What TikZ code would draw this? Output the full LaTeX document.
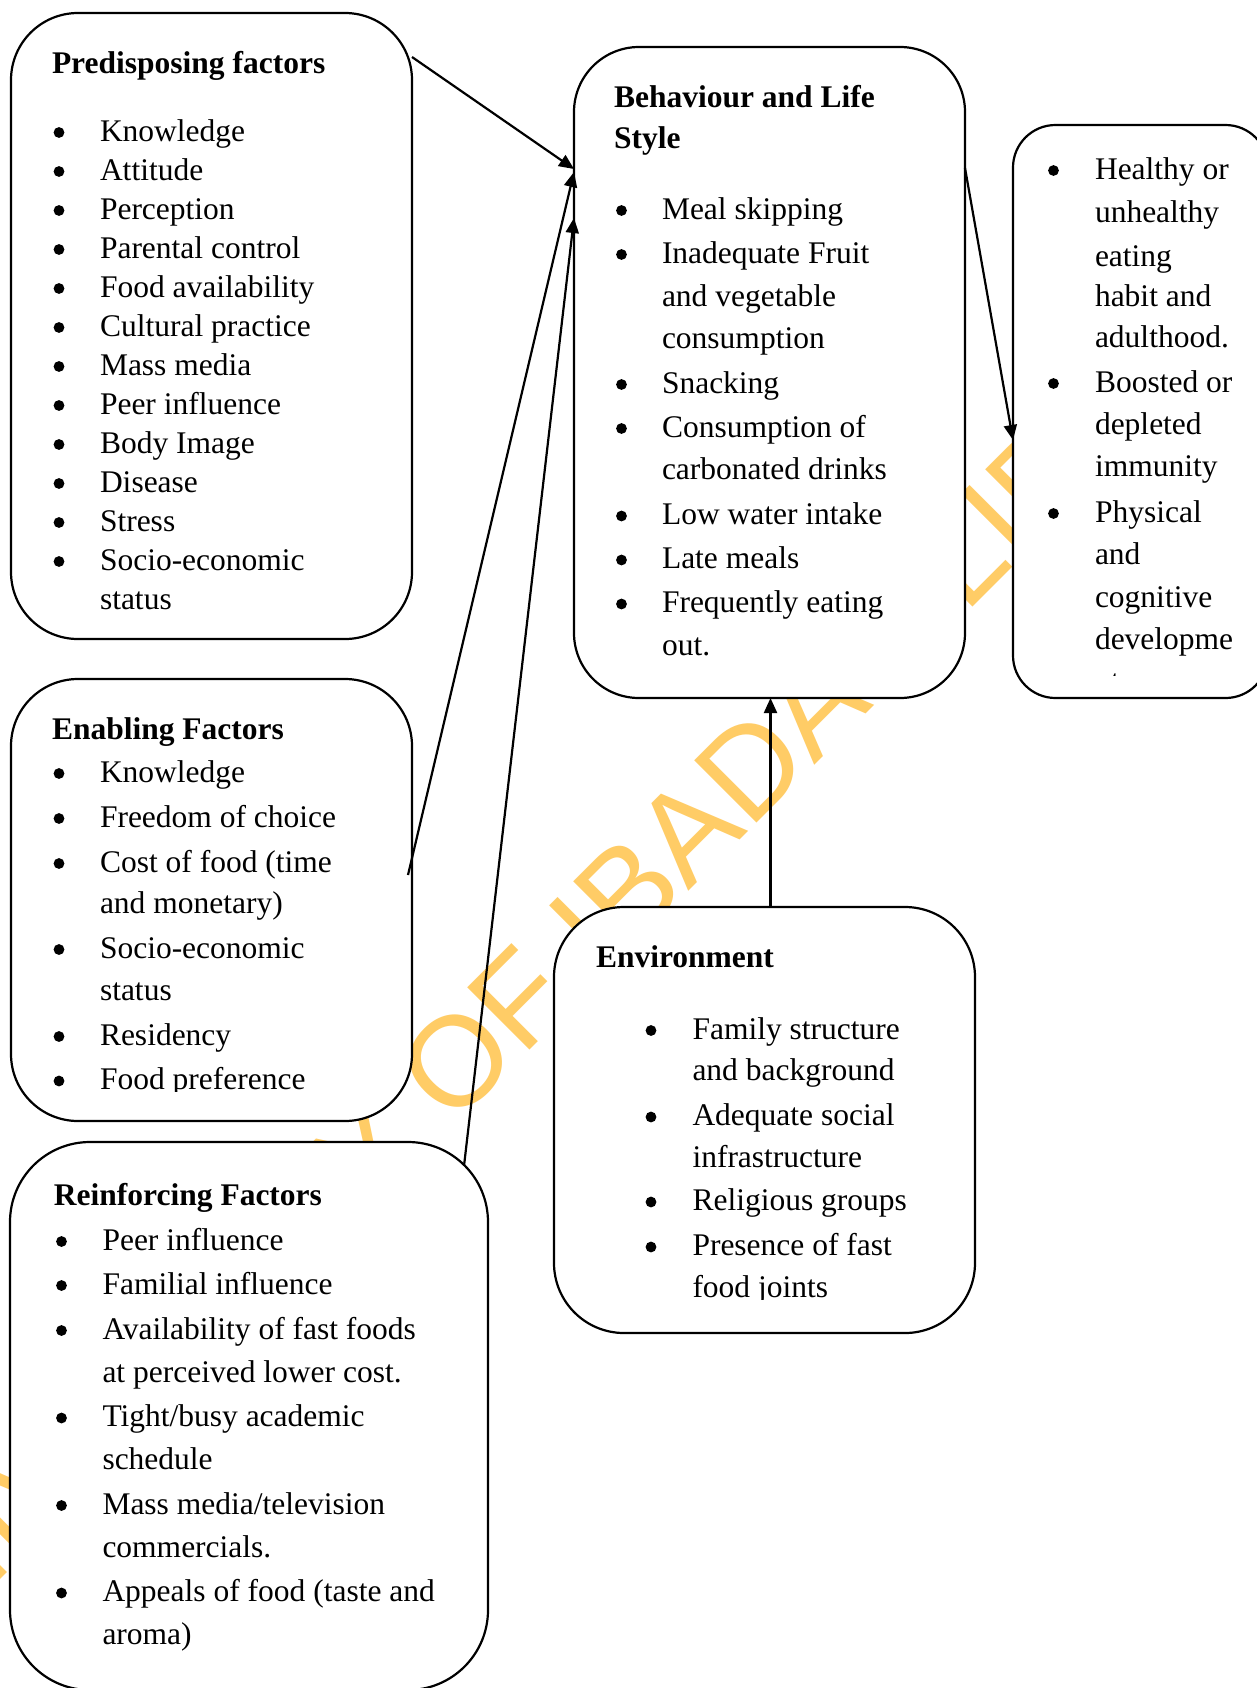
\documentclass[tikz,border=0pt]{standalone}
\usepackage{fontspec}
\setmainfont{Liberation Serif}
\newfontfamily\wmfont{Liberation Sans}
\usetikzlibrary{arrows.meta}
\definecolor{wmcol}{RGB}{255,204,102}
\newcommand{\bitem}[5]{%
  \node[bul] (#1b) at (#2,#4-8.5) {};
  \node[txt] (#1) at (#3,#4) {#5};}
\newcommand{\citem}[4]{%
  \node[txt] (#1) at (#2,#3) {#4};}
\begin{document}
\begin{tikzpicture}[x=0.5pt,y=-0.5pt,
  box/.style={draw, line width=1.1pt, fill=white, inner sep=0pt, outer sep=0pt, anchor=north west},
  txt/.style={anchor=base west, inner sep=0pt, outer sep=0pt, font=\fontsize{15.75pt}{19pt}\selectfont},
  ttl/.style={anchor=base west, inner sep=0pt, outer sep=0pt, font=\fontsize{15.75pt}{19pt}\selectfont\bfseries},
  bul/.style={circle, fill=black, inner sep=0pt, outer sep=0pt, minimum size=5.4pt},
  arr/.style={draw, line width=1.1pt, -{Triangle[length=7.5pt,width=6.5pt]}},
]
\useasboundingbox (0,0) rectangle (1257,1688);
\fill[white] (0,0) rectangle (1257,1688);

% watermark
\node[anchor=base west, rotate=45, inner sep=0pt, text=wmcol,
      font=\wmfont\fontsize{64pt}{64pt}\selectfont] (wmark) at (-116,1696) {UNIVERSITY OF IBADAN LIBRARY};

% boxes
\node[box, minimum width=200.5pt, minimum height=313pt, rounded corners=33.5pt] (pred) at (11,13) {};
\node[box, minimum width=200.5pt, minimum height=221pt, rounded corners=33.5pt] (enab) at (11,679) {};
\node[box, minimum width=239pt, minimum height=274pt, rounded corners=40pt] (reinf) at (10,1142) {};
\node[box, minimum width=195.5pt, minimum height=325.5pt, rounded corners=32.5pt] (beh) at (574,47) {};
\node[box, minimum width=127.5pt, minimum height=286.5pt, rounded corners=21.25pt] (out) at (1013,125) {};
\node[box, minimum width=210.5pt, minimum height=213pt, rounded corners=35pt] (env) at (554,907) {};

% Predisposing
\node[ttl] (predt) at (52,73) {Predisposing factors};
\bitem{p1}{59}{100}{141}{Knowledge}
\bitem{p2}{59}{100}{180}{Attitude}
\bitem{p3}{59}{100}{219}{Perception}
\bitem{p4}{59}{100}{258}{Parental control}
\bitem{p5}{59}{100}{297}{Food availability}
\bitem{p6}{59}{100}{336}{Cultural practice}
\bitem{p7}{59}{100}{375}{Mass media}
\bitem{p8}{59}{100}{414}{Peer influence}
\bitem{p9}{59}{100}{453}{Body Image}
\bitem{p10}{59}{100}{492}{Disease}
\bitem{p11}{59}{100}{531}{Stress}
\bitem{p12}{59}{100}{570}{Socio-economic}
\citem{p13}{100}{609}{status}

% Enabling
\node[ttl] (enabt) at (52,739) {Enabling Factors};
\bitem{e1}{59}{100}{782}{Knowledge}
\bitem{e2}{59}{100}{827}{Freedom of choice}
\bitem{e3}{59}{100}{872}{Cost of food (time}
\citem{e4}{100}{913}{and monetary)}
\bitem{e5}{59}{100}{958}{Socio-economic}
\citem{e6}{100}{1000}{status}
\bitem{e7}{59}{100}{1045}{Residency}
\begin{scope}
\clip (0,0) rectangle (1257,1091);
\bitem{e8}{59}{100}{1089.5}{Food preference}
\end{scope}

% Reinforcing
\node[ttl] (reinft) at (54,1205) {Reinforcing Factors};
\bitem{r1}{61.5}{102.5}{1250}{Peer influence}
\bitem{r2}{61.5}{102.5}{1294}{Familial influence}
\bitem{r3}{61.5}{102.5}{1339}{Availability of fast foods}
\citem{r4}{102.5}{1382}{at perceived lower cost.}
\bitem{r5}{61.5}{102.5}{1426.5}{Tight/busy academic}
\citem{r6}{102.5}{1469}{schedule}
\bitem{r7}{61.5}{102.5}{1514}{Mass media/television}
\citem{r8}{102.5}{1557}{commercials.}
\bitem{r9}{61.5}{102.5}{1601.5}{Appeals of food (taste and}
\citem{r10}{102.5}{1644}{aroma)}

% Behaviour
\node[ttl] (beht1) at (614,107) {Behaviour and Life};
\node[ttl] (beht2) at (614,148) {Style};
\bitem{b1}{621.5}{662}{219}{Meal skipping}
\bitem{b2}{621.5}{662}{263}{Inadequate Fruit}
\citem{b3}{662}{306}{and vegetable}
\citem{b4}{662}{348}{consumption}
\bitem{b5}{621.5}{662}{393}{Snacking}
\bitem{b6}{621.5}{662}{437}{Consumption of}
\citem{b7}{662}{479}{carbonated drinks}
\bitem{b8}{621.5}{662}{524.5}{Low water intake}
\bitem{b9}{621.5}{662}{568.5}{Late meals}
\bitem{b10}{621.5}{662}{612.5}{Frequently eating}
\citem{b11}{662}{655.5}{out.}

% Outcome
\bitem{o1}{1053.5}{1095}{179}{Healthy or}
\citem{o2}{1095}{222}{unhealthy}
\citem{o3}{1095}{266}{eating}
\citem{o4}{1095}{306}{habit and}
\citem{o5}{1095}{347}{adulthood.}
\bitem{o6}{1053.5}{1095}{392}{Boosted or}
\citem{o7}{1095}{434}{depleted}
\citem{o8}{1095}{476}{immunity}
\bitem{o9}{1053.5}{1095}{522}{Physical}
\citem{o10}{1095}{564}{and}
\citem{o11}{1095}{607}{cognitive}
\citem{o12}{1095}{649}{developme}
\begin{scope}
\clip (1013,0) rectangle (1257,675);
\citem{o13}{1095}{691}{nt.}
\end{scope}

% Environment
\node[ttl] (envt) at (596,967) {Environment};
\bitem{v1}{651}{692.5}{1039}{Family structure}
\citem{v2}{692.5}{1080.5}{and background}
\bitem{v3}{651}{692.5}{1125.5}{Adequate social}
\citem{v4}{692.5}{1167}{infrastructure}
\bitem{v5}{651}{692.5}{1210.5}{Religious groups}
\bitem{v6}{651}{692.5}{1255.5}{Presence of fast}
\begin{scope}
\clip (554,0) rectangle (975,1299);
\citem{v7}{692.5}{1297}{food joints}
\end{scope}

% connectors
\draw[arr] ([yshift=-22pt]pred.north east) -- ([yshift=-61pt]beh.north west);
\draw[arr] ([xshift=-2pt,yshift=-98pt]enab.north east) -- ([yshift=-62.5pt]beh.north west);
\draw[arr] ([xshift=-12pt,yshift=-12pt]reinf.north east) -- ([yshift=-85.5pt]beh.north west);
\draw[arr] ([yshift=-60.5pt]beh.north east) -- ([yshift=-157.5pt]out.north west);
\draw[arr] ([xshift=3pt]env.north) -- ([xshift=3pt]env.north |- beh.south);
\end{tikzpicture}
\end{document}
